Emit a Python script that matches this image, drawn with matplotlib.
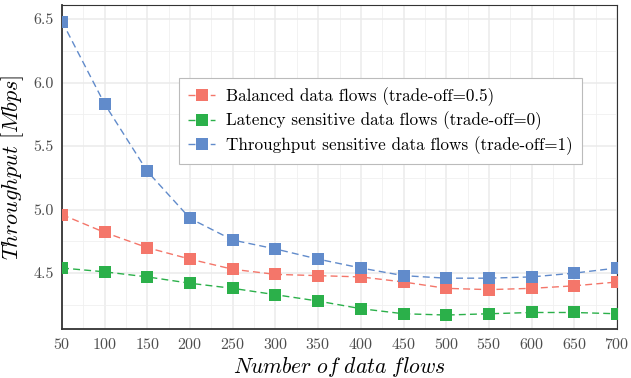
import matplotlib
matplotlib.use("Agg")
import matplotlib.pyplot as plt
from matplotlib.ticker import MultipleLocator

plt.rcParams['font.family'] = 'serif'
plt.rcParams['font.serif'] = ['cmr10']
plt.rcParams['mathtext.fontset'] = 'cm'
plt.rcParams['axes.formatter.use_mathtext'] = True

# 数据
flows = [50, 100, 150, 200, 250, 300, 350, 400, 450, 500, 550, 600, 650, 700]
balanced = [4.96, 4.82, 4.70, 4.61, 4.53, 4.49, 4.48, 4.47, 4.43, 4.38, 4.37, 4.38, 4.40, 4.43]
latency = [4.54, 4.51, 4.47, 4.42, 4.38, 4.33, 4.28, 4.22, 4.18, 4.17, 4.18, 4.19, 4.19, 4.18]
throughput = [6.48, 5.83, 5.30, 4.93, 4.76, 4.69, 4.61, 4.54, 4.48, 4.46, 4.46, 4.47, 4.50, 4.54]

labels = ['Balanced data flows (trade-off=0.5)',
          'Latency sensitive data flows (trade-off=0)',
          'Throughput sensitive data flows (trade-off=1)']
colors = ['#F4766A', '#2BB04A', '#618BCB']

fig = plt.figure(figsize=(6.31, 3.78), dpi=100)
ax = fig.add_axes([0.0983, 0.1296, 0.8795, 0.8572])

for ys, lab, c in zip([balanced, latency, throughput], labels, colors):
    ax.plot(flows, ys, linestyle=(0, (5, 3)), color=c, linewidth=1.0,
            marker='s', markersize=8, markeredgewidth=0, label=lab, zorder=3)

ax.set_xlim(50, 700)
ax.set_ylim(4.06, 6.61)
ax.xaxis.set_major_locator(MultipleLocator(50))
ax.xaxis.set_minor_locator(MultipleLocator(25))
ax.yaxis.set_major_locator(MultipleLocator(0.5))
ax.yaxis.set_minor_locator(MultipleLocator(0.25))
ax.yaxis.set_major_formatter(matplotlib.ticker.FormatStrFormatter('%.1f'))

ax.grid(True, which='major', color='#EBEBEB', linewidth=1.1)
ax.grid(True, which='minor', color='#F0F0F0', linewidth=0.6)
ax.set_axisbelow(True)
ax.tick_params(which='both', length=0, labelsize=11.5, labelcolor='#4D4D4D', pad=6)

for s in ax.spines.values():
    s.set_color('#333333')
    s.set_linewidth(0.8)
ax.spines['left'].set_linewidth(1.3)
ax.spines['bottom'].set_linewidth(1.3)

ax.set_xlabel(r'$Number\ of\ data\ flows$', fontsize=15.5, labelpad=2)
ax.set_ylabel(r'$Throughput\ [Mbps]$', fontsize=16, labelpad=5)

leg = ax.legend(loc='upper left', bbox_to_anchor=(0.21, 0.775), borderaxespad=0,
                fontsize=12.3, handlelength=1.6, handletextpad=0.6, fancybox=False,
                framealpha=1, edgecolor='#BBBBBB', borderpad=0.55, labelspacing=0.33)
leg.get_frame().set_linewidth(0.8)

plt.savefig('out.png', dpi=100)
